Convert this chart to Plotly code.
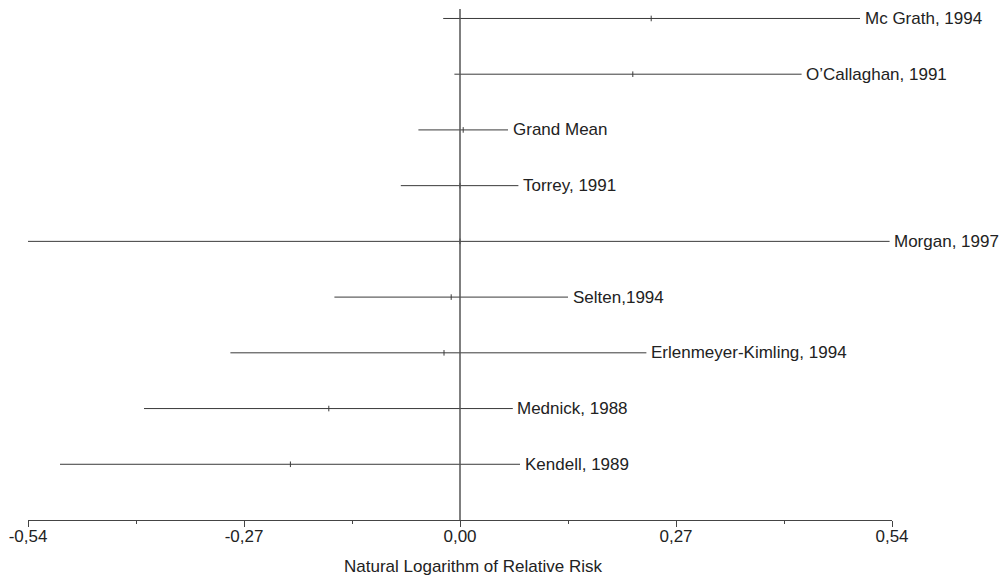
import plotly.graph_objects as go

studies = ["Mc Grath, 1994", "O\u2019Callaghan, 1991", "Grand Mean", "Torrey, 1991",
           "Morgan, 1997", "Selten,1994", "Erlenmeyer-Kimling, 1994", "Mednick, 1988",
           "Kendell, 1989"]
lower = [-0.021, -0.007, -0.052, -0.074, -0.54, -0.157, -0.287, -0.395, -0.50]
upper = [0.50, 0.427, 0.060, 0.073, 0.537, 0.135, 0.233, 0.066, 0.075]
estimate = [0.239, 0.216, 0.004, 0.0, 0.0, -0.011, -0.020, -0.164, -0.212]
rows = [9, 8, 7, 6, 5, 4, 3, 2, 1]

tick_vals = [-0.54, -0.27, 0.0, 0.27, 0.54]
tick_text = ["-0,54", "-0,27", "0,00", "0,27", "0,54"]
minor_vals = [-0.405, -0.135, 0.135, 0.405]
x_title = "Natural Logarithm of Relative Risk"

FONT = "Liberation Sans, Arial, Helvetica, sans-serif"
LINE = "#3a3a3a"

xs, ys = [], []
for lo, hi, r in zip(lower, upper, rows):
    xs += [lo, hi, None]
    ys += [r, r, None]

fig = go.Figure()
fig.add_trace(go.Scatter(x=xs, y=ys, mode="lines",
                         line=dict(color=LINE, width=1), hoverinfo="skip",
                         showlegend=False))
fig.add_trace(go.Scatter(x=estimate, y=rows, mode="markers",
                         marker=dict(symbol="line-ns", size=4,
                                     line=dict(color=LINE, width=1)),
                         showlegend=False))

fig.add_shape(type="line", x0=0, x1=0, y0=0, y1=9.17, xref="x", yref="y",
              line=dict(color="#555555", width=1.5), layer="above")

for s, hi, r in zip(studies, upper, rows):
    fig.add_annotation(x=hi, y=r, text=s, showarrow=False, xanchor="left",
                       yanchor="middle", xshift=2.5,
                       font=dict(family=FONT, size=17, color="#222222"))

# axis title (slightly right of centre, as in the original)
fig.add_annotation(x=0.5156, y=0, xref="paper", yref="paper", text=x_title,
                   showarrow=False, xanchor="center", yanchor="middle",
                   yshift=-46, font=dict(family=FONT, size=17, color="#222222"))

fig.update_layout(
    width=1000, height=577,
    margin=dict(l=28, r=108, t=9, b=57, autoexpand=False),
    paper_bgcolor="white", plot_bgcolor="white",
    font=dict(family=FONT, size=17, color="#222222"),
    xaxis=dict(range=[-0.54, 0.54], tickvals=tick_vals, ticktext=tick_text,
               ticks="outside", ticklen=6, tickwidth=1, tickcolor="#444444",
               showline=True, linecolor="#444444", linewidth=1,
               showgrid=False, zeroline=False, automargin=False,
               ticklabelstandoff=-5,
               tickfont=dict(family=FONT, size=17, color="#222222"),
               minor=dict(tickvals=minor_vals, ticks="outside", ticklen=3,
                          tickwidth=1, tickcolor="#444444", showgrid=False)),
    yaxis=dict(range=[0, 9.17], visible=False, showgrid=False, zeroline=False,
               automargin=False),
)

fig.write_html("out.html", config={"displayModeBar": False},
               post_script="document.body.style.margin='0px';document.body.style.overflow='hidden';")
